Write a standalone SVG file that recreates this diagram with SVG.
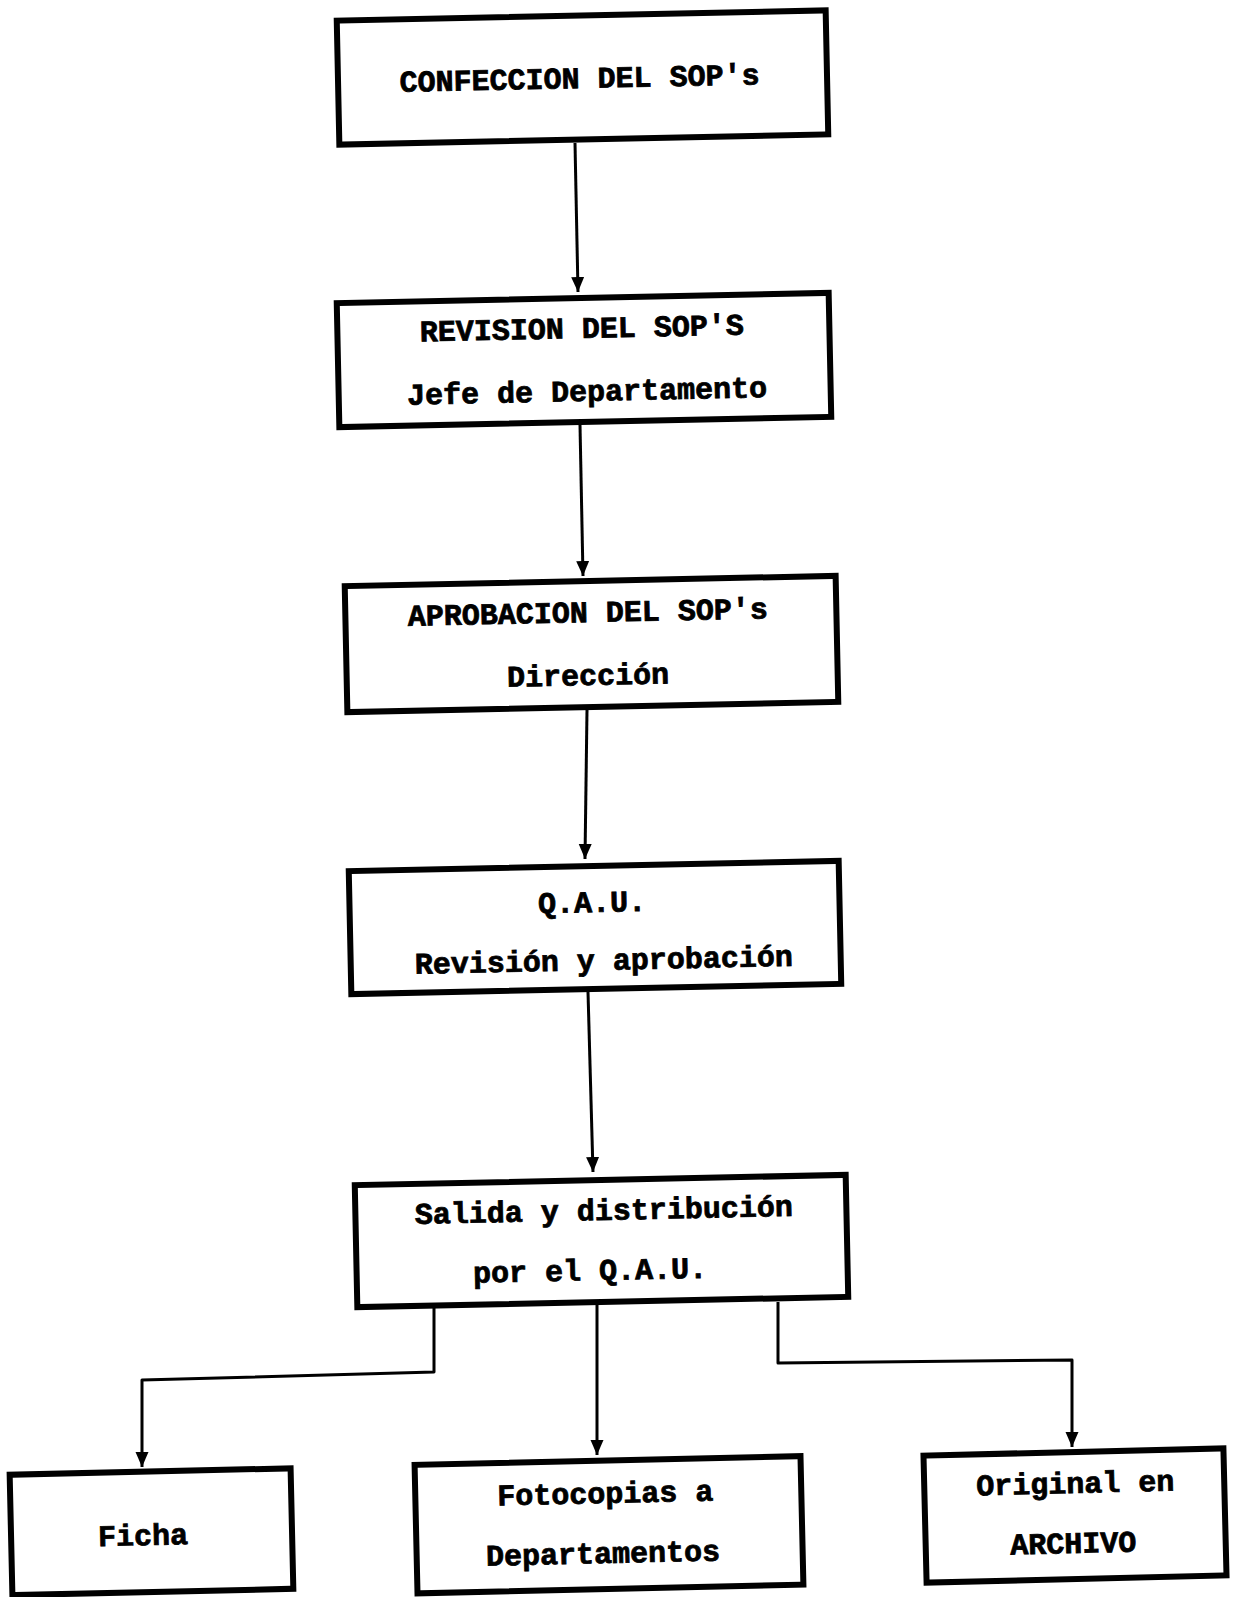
<svg xmlns="http://www.w3.org/2000/svg" width="1234" height="1597" viewBox="0 0 1234 1597">
<style>
.box{fill:#fff;stroke:#000;stroke-width:6;stroke-linejoin:miter}
.t{font-family:"Liberation Mono","Courier New",monospace;font-weight:bold;font-size:30px;fill:#000;stroke:#000;stroke-width:0.8;text-anchor:middle}
.c{fill:none;stroke:#000;stroke-width:3;stroke-linejoin:round}
</style>
<defs>
<marker id="ah" markerUnits="userSpaceOnUse" markerWidth="16" markerHeight="14" refX="15" refY="6.5" orient="auto">
<path d="M0,0 L15,6.5 L0,13 z" fill="#000"/>
</marker>
</defs>
<rect width="1234" height="1597" fill="#fff"/>
<g id="connectors">
<line class="c" x1="575" y1="143" x2="578" y2="292" marker-end="url(#ah)"/>
<line class="c" x1="580" y1="425" x2="583" y2="576" marker-end="url(#ah)"/>
<line class="c" x1="587" y1="710" x2="585" y2="859" marker-end="url(#ah)"/>
<line class="c" x1="588" y1="992" x2="593" y2="1172" marker-end="url(#ah)"/>
<polyline class="c" points="434,1304 434,1372 142,1380 142,1467" marker-end="url(#ah)"/>
<line class="c" x1="597" y1="1303" x2="597" y2="1455" marker-end="url(#ah)"/>
<polyline class="c" points="778,1302 778,1363 1072,1360 1072,1447" marker-end="url(#ah)"/>
</g>
<g id="n1" transform="rotate(-1.2 582.5 77.5)">
<rect class="box" x="338" y="15.5" width="489" height="124"/>
<text class="t" x="579.5" y="88">CONFECCION DEL SOP's</text>
</g>
<g id="n2" transform="rotate(-1.2 584 360)">
<rect class="box" x="338" y="298" width="492" height="124"/>
<text class="t" x="582.5" y="338">REVISION DEL SOP'S</text>
<text class="t" x="586.5" y="401">Jefe de Departamento</text>
</g>
<g id="n3" transform="rotate(-1.2 591.5 644)">
<rect class="box" x="346" y="581" width="491" height="126"/>
<text class="t" x="588.5" y="622">APROBACION DEL SOP's</text>
<text class="t" x="587.5" y="685">Dirección</text>
</g>
<g id="n4" transform="rotate(-1.2 595 927.5)">
<rect class="box" x="350" y="866" width="490" height="123"/>
<text class="t" x="592.5" y="912">Q.A.U.</text>
<text class="t" x="603" y="970">Revisión y aprobación</text>
</g>
<g id="n5" transform="rotate(-1.2 601.5 1241)">
<rect class="box" x="356" y="1180" width="491" height="122"/>
<text class="t" x="604.5" y="1220">Salida y distribución</text>
<text class="t" x="589.5" y="1280">por el Q.A.U.</text>
</g>
<g id="n6" transform="rotate(-1.3 151.5 1532)">
<rect class="box" x="11" y="1471.5" width="281" height="120.5"/>
<text class="t" x="143" y="1545">Ficha</text>
</g>
<g id="n7" transform="rotate(-1.3 609 1525)">
<rect class="box" x="416" y="1460.5" width="386" height="128.5"/>
<text class="t" x="606" y="1503">Fotocopias a</text>
<text class="t" x="602.5" y="1563">Departamentos</text>
</g>
<g id="n8" transform="rotate(-1.4 1075 1515.5)">
<rect class="box" x="925" y="1452" width="300" height="127"/>
<text class="t" x="1076" y="1493">Original en</text>
<text class="t" x="1072.5" y="1553">ARCHIVO</text>
</g>
</svg>
